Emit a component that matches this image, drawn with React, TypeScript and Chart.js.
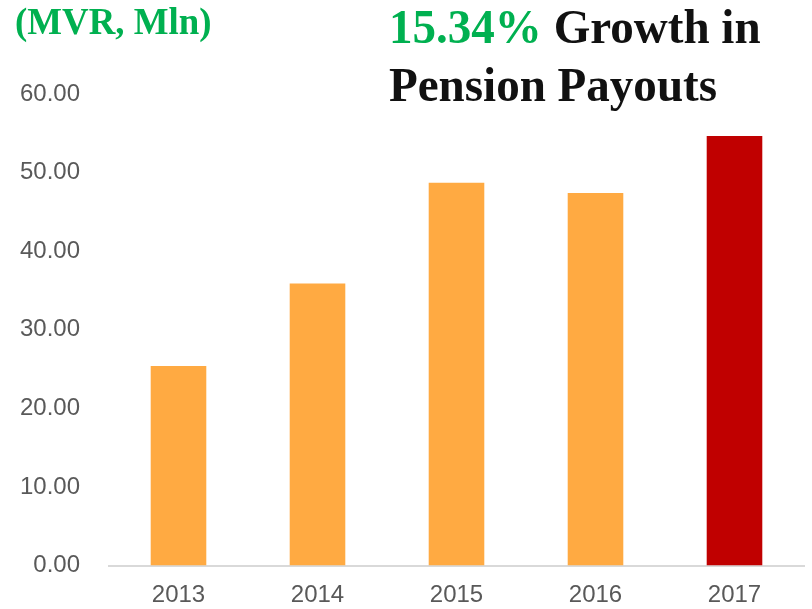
import React, { useEffect, useRef } from "react";
import { Chart, registerables } from "chart.js";

Chart.register(...registerables);

const categories: string[] = ["2013", "2014", "2015", "2016", "2017"];
const payouts: number[] = [25.4, 35.9, 48.7, 47.4, 54.67];
const yTicks: number[] = [0, 10, 20, 30, 40, 50, 60];
const unitLabel = "(MVR, Mln)";
const growthLabel = "15.34%";
const titleLine1 = " Growth in";
const titleLine2 = "Pension Payouts";

const ORANGE = "#FFAA42";
const RED = "#C00000";
const GREEN = "#00B050";

export default function App() {
  const canvasRef = useRef<HTMLCanvasElement | null>(null);

  useEffect(() => {
    if (!canvasRef.current) return;
    const last = payouts.length - 1;
    const chart = new Chart(canvasRef.current, {
      type: "bar",
      data: {
        labels: categories,
        datasets: [
          {
            data: payouts,
            backgroundColor: (ctx: any) => (ctx.dataIndex === last ? RED : ORANGE),
            barPercentage: 0.4,
            categoryPercentage: 1.0,
            borderWidth: 0,
          },
        ],
      },
      options: {
        animation: false,
        responsive: false,
        maintainAspectRatio: false,
        devicePixelRatio: 1,
        layout: { padding: { top: 94, right: 8, left: 0, bottom: 0 } },
        plugins: {
          legend: { display: false },
          tooltip: { enabled: false },
          title: { display: false },
        },
        scales: {
          x: {
            grid: { display: false, drawTicks: false },
            border: { display: true, color: "#D9D9D9", width: 2 },
            ticks: {
              color: "#595959",
              font: { family: "'Liberation Sans', Arial, sans-serif", size: 24 },
              padding: 15,
            },
            afterFit: (scale: any) => {
              scale.height = 42;
            },
          },
          y: {
            min: 0,
            max: 60,
            grid: { display: false, drawTicks: false },
            border: { display: false },
            afterBuildTicks: (scale: any) => {
              scale.ticks = yTicks.map((v) => ({ value: v }));
            },
            ticks: {
              color: "#595959",
              font: { family: "'Liberation Sans', Arial, sans-serif", size: 24 },
              padding: 29,
              callback: (v: any) => Number(v).toFixed(2),
            },
            afterFit: (scale: any) => {
              scale.width = 109;
            },
          },
        },
      },
    });
    return () => chart.destroy();
  }, []);

  const serif = "'Liberation Serif', 'Times New Roman', serif";

  return (
    <div
      style={{
        position: "fixed",
        left: 0,
        top: 0,
        width: 812,
        height: 609,
        background: "#ffffff",
        overflow: "hidden",
      }}
    >
      <canvas
        ref={canvasRef}
        width={812}
        height={609}
        style={{ position: "absolute", left: 0, top: 0, width: 812, height: 609 }}
      />
      <div
        style={{
          position: "absolute",
          left: 15,
          top: 2,
          fontFamily: serif,
          fontWeight: "bold",
          fontSize: 38,
          lineHeight: 1,
          color: GREEN,
          whiteSpace: "nowrap",
          transform: "scaleX(0.97)",
          transformOrigin: "left top",
        }}
      >
        {unitLabel}
      </div>
      <div
        style={{
          position: "absolute",
          left: 389,
          top: -2.5,
          fontFamily: serif,
          fontWeight: "bold",
          fontSize: 49,
          lineHeight: "58px",
          color: "#111111",
          whiteSpace: "nowrap",
          transform: "scaleX(0.96)",
          transformOrigin: "left top",
        }}
      >
        <div>
          <span style={{ color: GREEN }}>{growthLabel}</span>
          {titleLine1}
        </div>
        <div>{titleLine2}</div>
      </div>
    </div>
  );
}
